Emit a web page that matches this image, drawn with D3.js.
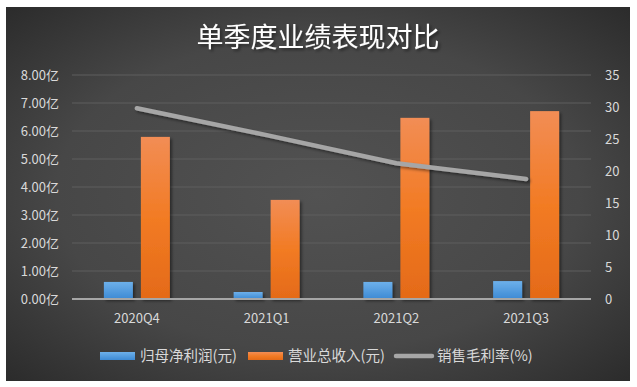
<!DOCTYPE html>
<html>
<head>
<meta charset="utf-8">
<script src="https://cdn.jsdelivr.net/npm/d3@7"></script>
<style>
  body { margin: 0; background: #fff; }
  svg { display: block; font-family: "Noto Sans CJK SC", "Noto Sans", sans-serif; }
</style>
</head>
<body>
<div id="chart"></div>
<script>
// 单季度业绩表现对比
var quarters = ["2020Q4", "2021Q1", "2021Q2", "2021Q3"]
var netProfit = [0.61, 0.25, 0.61, 0.64]   // 亿元
var revenue = [5.79, 3.54, 6.47, 6.71]     // 亿元
var grossMargin = [29.8, 25.6, 21.2, 18.75] // %
var leftTicks = [0, 1, 2, 3, 4, 5, 6, 7, 8]
var rightTicks = [0, 5, 10, 15, 20, 25, 30, 35]

var width = 637, height = 387
var margin = {top: 75, right: 46, bottom: 88, left: 72}

var svg = d3.select('#chart').append('svg')
    .attr('width', width)
    .attr('height', height)

var defs = svg.append('defs')

var bg = defs.append('radialGradient').attr('id', 'bg')
    .attr('cx', '50%').attr('cy', '50%').attr('r', '70%')
bg.append('stop').attr('offset', '0%').attr('stop-color', '#525252')
bg.append('stop').attr('offset', '60%').attr('stop-color', '#474747')
bg.append('stop').attr('offset', '100%').attr('stop-color', '#2c2c2c')

var blueGrad = defs.append('linearGradient').attr('id', 'blueGrad')
    .attr('x1', 0).attr('y1', 0).attr('x2', 0).attr('y2', 1)
blueGrad.append('stop').attr('offset', '0%').attr('stop-color', '#6db0ea')
blueGrad.append('stop').attr('offset', '100%').attr('stop-color', '#3d8ad4')

var orangeGrad = defs.append('linearGradient').attr('id', 'orangeGrad')
    .attr('x1', 0).attr('y1', 0).attr('x2', 0).attr('y2', 1)
orangeGrad.append('stop').attr('offset', '0%').attr('stop-color', '#f28d55')
orangeGrad.append('stop').attr('offset', '50%').attr('stop-color', '#f27b24')
orangeGrad.append('stop').attr('offset', '100%').attr('stop-color', '#e46a18')

var shadow = defs.append('filter').attr('id', 'shadow')
    .attr('x', '-20%').attr('y', '-20%').attr('width', '150%').attr('height', '150%')
shadow.append('feDropShadow')
    .attr('dx', 2).attr('dy', 2).attr('stdDeviation', 1.5)
    .attr('flood-color', '#000').attr('flood-opacity', 0.45)

svg.append('rect')
    .attr('x', 6).attr('y', 7)
    .attr('width', 624).attr('height', 374)
    .attr('fill', 'url(#bg)')

svg.append('text')
    .attr('x', 318).attr('y', 47)
    .attr('text-anchor', 'middle')
    .attr('fill', '#fff')
    .attr('font-size', 27)
    .attr('filter', 'url(#shadow)')
    .text('单季度业绩表现对比')

var x = d3.scaleBand()
    .domain(quarters)
    .range([margin.left, width - margin.right])

var yLeft = d3.scaleLinear()
    .domain([0, 8])
    .range([height - margin.bottom, margin.top])

var yRight = d3.scaleLinear()
    .domain([0, 35])
    .range([height - margin.bottom, margin.top])

// gridlines
svg.append('g')
  .selectAll('line')
  .data(leftTicks.slice(1))
  .join('line')
    .attr('x1', margin.left)
    .attr('x2', width - margin.right)
    .attr('y1', d => yLeft(d))
    .attr('y2', d => yLeft(d))
    .attr('stroke', '#5e5e5e')
    .attr('stroke-width', 1)

var yAxisLeft = g => g
    .attr('transform', 'translate(' + (margin.left - 10) + ',0)')
    .call(d3.axisLeft(yLeft).tickValues(leftTicks).tickSize(0).tickFormat(d => d.toFixed(2) + '亿'))
    .call(g => g.select('.domain').remove())
    .call(g => g.selectAll('text').attr('fill', '#d9d9d9').attr('font-size', 13)
        .attr('font-family', '"Noto Sans CJK SC", sans-serif'))

var yAxisRight = g => g
    .attr('transform', 'translate(' + (width - margin.right + 11) + ',0)')
    .call(d3.axisRight(yRight).tickValues(rightTicks).tickSize(0))
    .call(g => g.select('.domain').remove())
    .call(g => g.selectAll('text').attr('fill', '#d9d9d9').attr('font-size', 13)
        .attr('font-family', '"Noto Sans CJK SC", sans-serif'))

var xAxis = g => g
    .attr('transform', 'translate(0,' + (height - margin.bottom + 12) + ')')
    .call(d3.axisBottom(x).tickSize(0))
    .call(g => g.select('.domain').remove())
    .call(g => g.selectAll('text').attr('fill', '#d9d9d9').attr('font-size', 13)
        .attr('font-family', '"Noto Sans CJK SC", sans-serif'))

svg.append('g').call(yAxisLeft)
svg.append('g').call(yAxisRight)
svg.append('g').call(xAxis)

var barW = 29, gap = 8

svg.append('g')
    .attr('filter', 'url(#shadow)')
  .selectAll('rect')
  .data(netProfit)
  .join('rect')
    .attr('x', (d, i) => x(quarters[i]) + x.bandwidth() / 2 - gap / 2 - barW)
    .attr('y', d => yLeft(d))
    .attr('width', barW)
    .attr('height', d => yLeft(0) - yLeft(d))
    .attr('fill', 'url(#blueGrad)')

svg.append('g')
    .attr('filter', 'url(#shadow)')
  .selectAll('rect')
  .data(revenue)
  .join('rect')
    .attr('x', (d, i) => x(quarters[i]) + x.bandwidth() / 2 + gap / 2)
    .attr('y', d => yLeft(d))
    .attr('width', barW)
    .attr('height', d => yLeft(0) - yLeft(d))
    .attr('fill', 'url(#orangeGrad)')

// baseline
svg.append('line')
    .attr('x1', margin.left)
    .attr('x2', width - margin.right)
    .attr('y1', yLeft(0))
    .attr('y2', yLeft(0))
    .attr('stroke', '#a6a6a6')
    .attr('stroke-width', 2)

var line = d3.line()
    .x((d, i) => x(quarters[i]) + x.bandwidth() / 2)
    .y(d => yRight(d))

svg.append('path')
    .datum(grossMargin)
    .attr('d', line)
    .attr('fill', 'none')
    .attr('stroke', '#a6a6a6')
    .attr('stroke-width', 4.5)
    .attr('stroke-linecap', 'round')
    .attr('stroke-linejoin', 'round')
    .attr('filter', 'url(#shadow)')

// legend
var legendY = 356
var legend = svg.append('g').attr('font-size', 14.5).attr('fill', '#d9d9d9')

legend.append('rect')
    .attr('x', 100).attr('y', legendY - 4).attr('width', 35).attr('height', 8)
    .attr('fill', 'url(#blueGrad)')
legend.append('text').attr('x', 140).attr('y', legendY + 5).text('归母净利润(元)')

legend.append('rect')
    .attr('x', 248).attr('y', legendY - 4).attr('width', 35).attr('height', 8)
    .attr('fill', 'url(#orangeGrad)')
legend.append('text').attr('x', 288).attr('y', legendY + 5).text('营业总收入(元)')

legend.append('line')
    .attr('x1', 396).attr('x2', 432).attr('y1', legendY).attr('y2', legendY)
    .attr('stroke', '#a6a6a6').attr('stroke-width', 4.5).attr('stroke-linecap', 'round')
legend.append('text').attr('x', 437).attr('y', legendY + 5).text('销售毛利率(%)')
</script>
</body>
</html>
